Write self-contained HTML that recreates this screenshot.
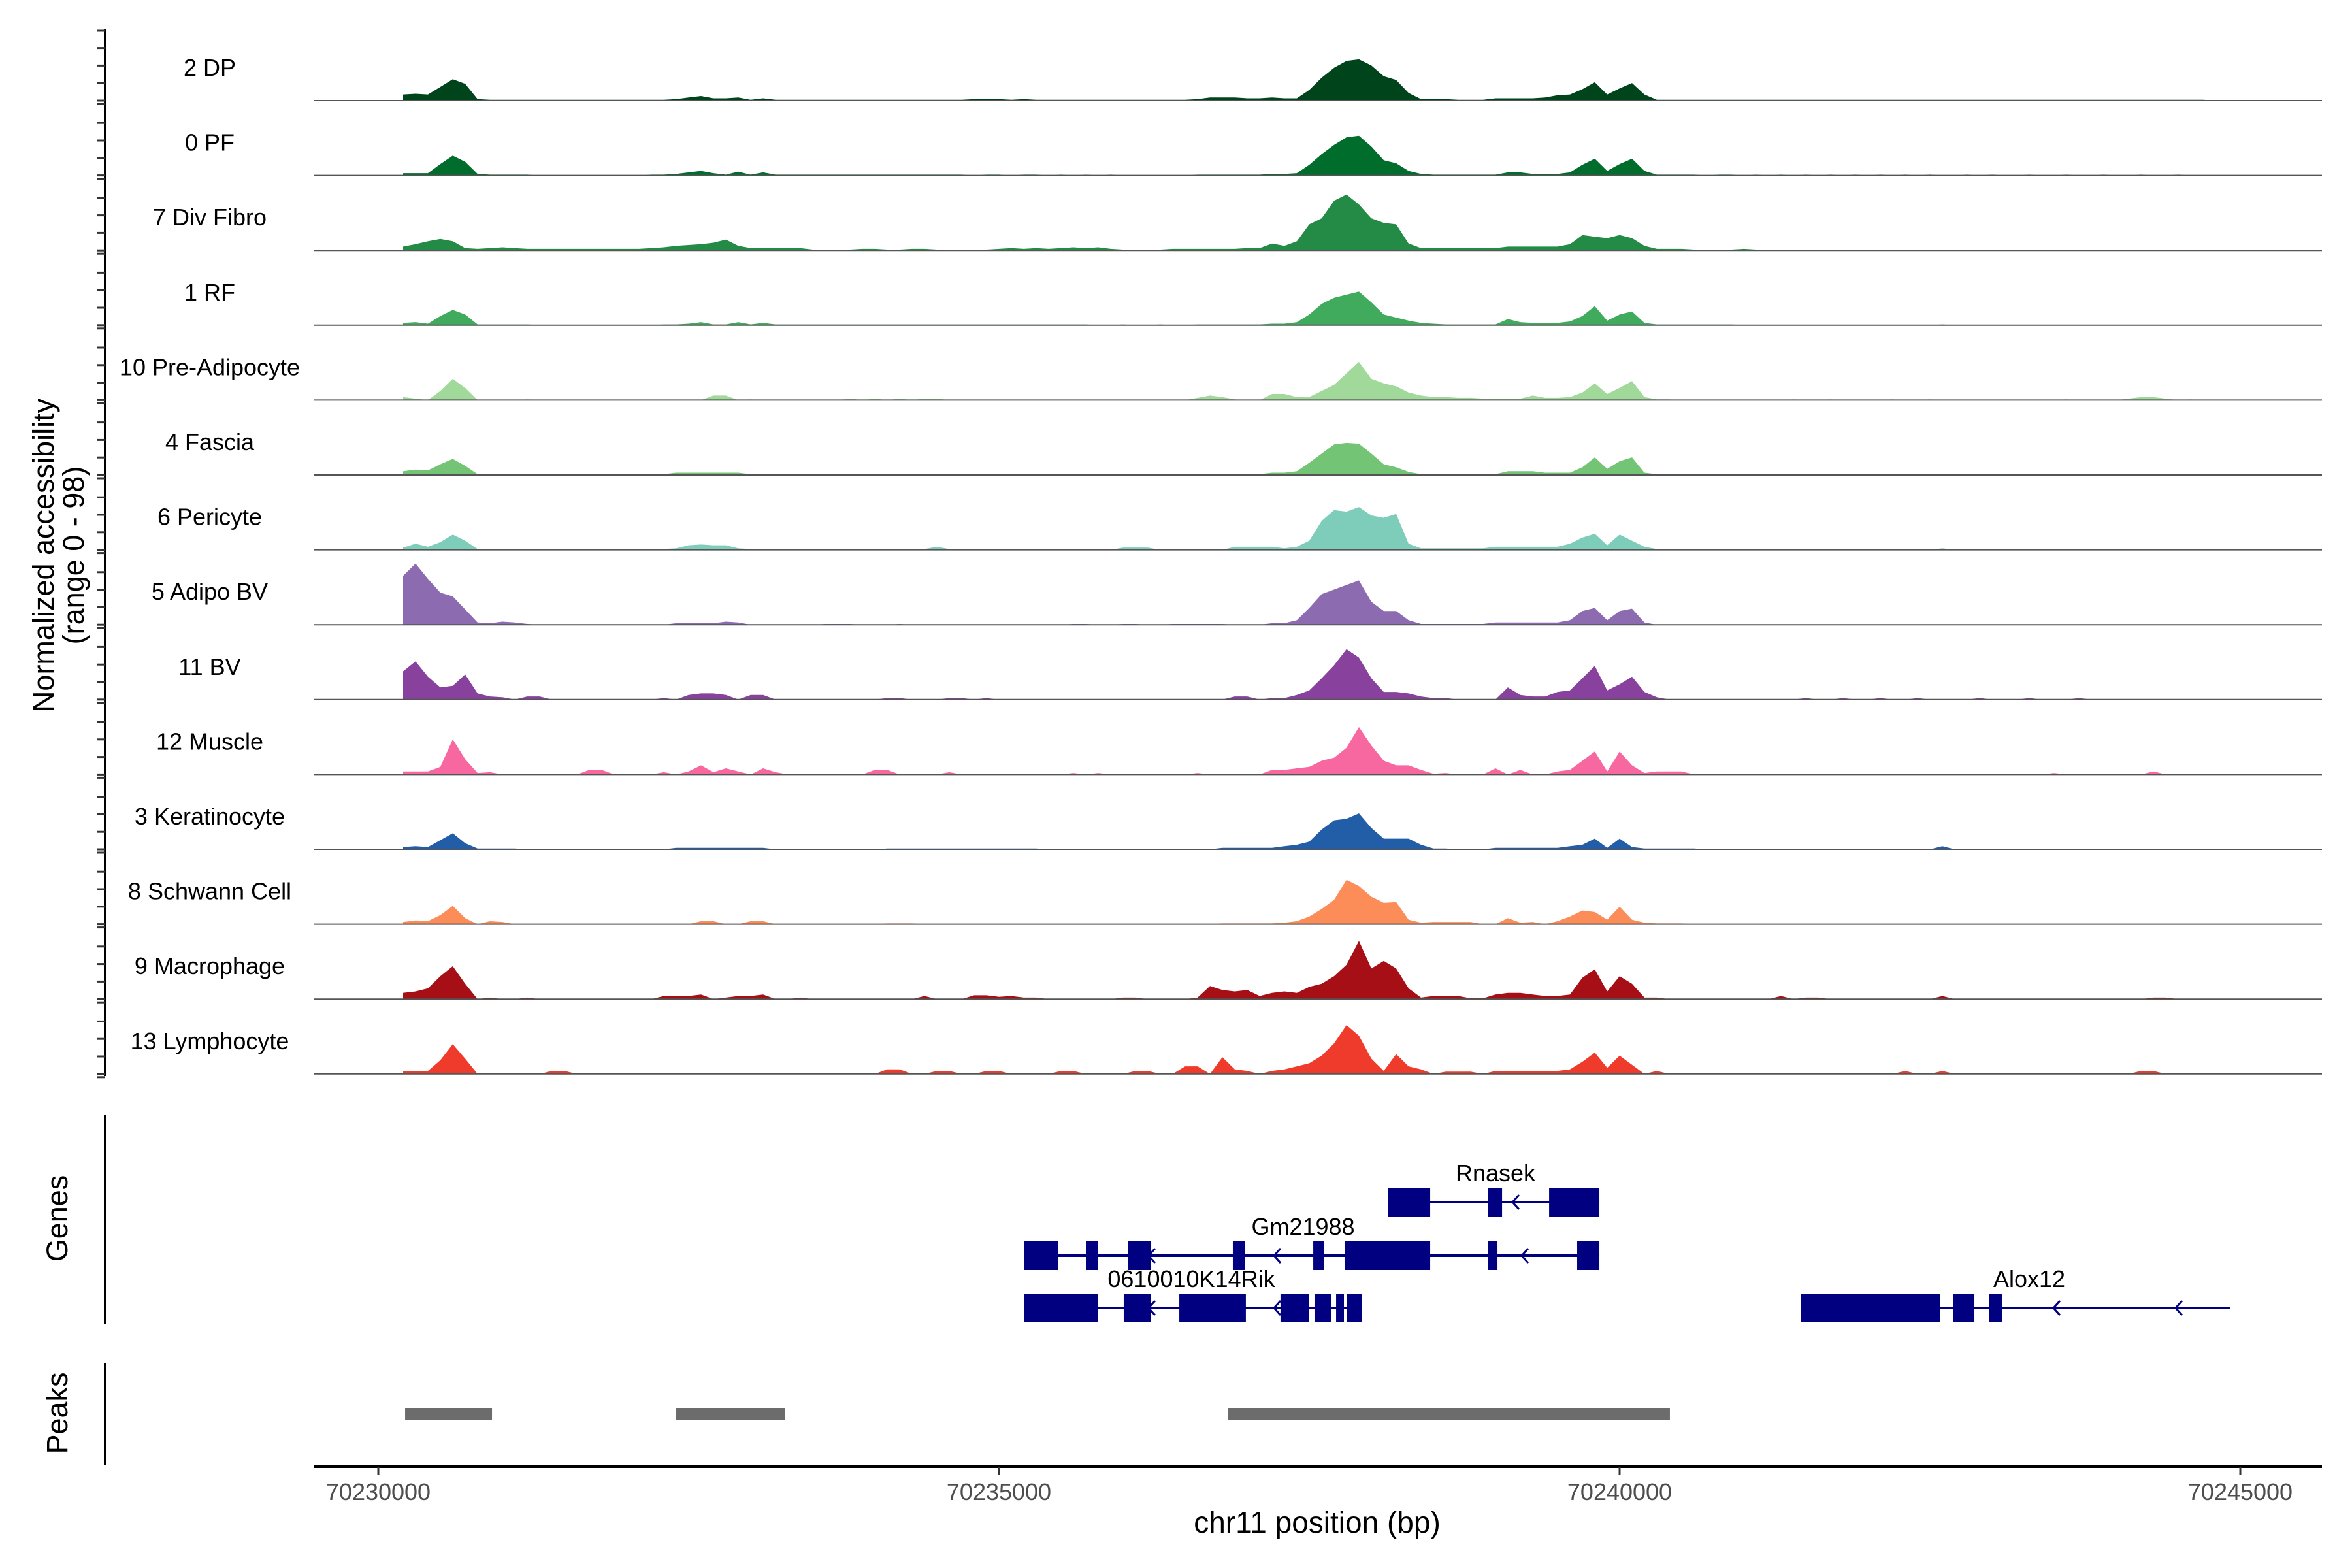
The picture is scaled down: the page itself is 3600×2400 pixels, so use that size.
<!DOCTYPE html>
<html><head><meta charset="utf-8"><style>
html,body{margin:0;padding:0;background:#fff;}
svg{display:block;font-family:"Liberation Sans",Arial,sans-serif;}
</style></head><body>
<svg id="chart" width="3600" height="2400" viewBox="0 0 3600 2400" xmlns="http://www.w3.org/2000/svg">
<rect x="0" y="0" width="3600" height="2400" fill="#fff"/>
<g id="tracks"></g>
<g id="genes"></g>
<g id="peaks"></g>
<g id="axes"></g>
<text x="0" y="0" transform="translate(82,850) rotate(-90)" text-anchor="middle" font-size="45" fill="#000">Normalized accessibility</text>
<text x="0" y="0" transform="translate(128,850) rotate(-90)" text-anchor="middle" font-size="45" fill="#000">(range 0 - 98)</text>
<text x="0" y="0" transform="translate(103,1865) rotate(-90)" text-anchor="middle" font-size="45" fill="#000">Genes</text>
<text x="0" y="0" transform="translate(103,2163) rotate(-90)" text-anchor="middle" font-size="45" fill="#000">Peaks</text>
<text x="2016" y="2346" text-anchor="middle" font-size="46" fill="#000">chr11 position (bp)</text>
</svg>
<script>
const NS="http://www.w3.org/2000/svg";
const binStart=70230200, binSize=100, yMax=98;
const trackNames=["2 DP","0 PF","7 Div Fibro","1 RF","10 Pre-Adipocyte","4 Fascia","6 Pericyte","5 Adipo BV","11 BV","12 Muscle","3 Keratinocyte","8 Schwann Cell","9 Macrophage","13 Lymphocyte"];
const trackColors=["#00441b","#006d2c","#238b45","#41ab5d","#a1d99b","#74c476","#7ecdbb","#8c6bb1","#88419d","#f768a1","#225ea8","#fc8d59","#a50f15","#ef3b2c"];
const dp=[8,9,8,18,28,22,2,1,1,1, 1,1,1,1,1,1,1,1,1,1, 1,1,2,4,6,3,3,4,1,3, 1,1,1,1,1,1,1,1,1,1, 1,1,1,1,1,1,2,2,2,1, 2,1,1,1,1,1,1,1,1,1, 1,1,1,1,2,4,4,4,3,3, 4,3,3,14,30,43,52,54,46,32, 27,10,2,2,2,1,1,1,3,3, 3,3,4,7,8,15,24,8,16,23, 8,1,1,1,1,1,1,1,1,1, 1,1,1,1,1,1,1,1,1,1, 1,1,1,1,1,1,1,1,1,1, 1,1,1,1,1,1,1,1,1,1, 1,1,1,1,1,1,0];
const pf=[3,3,3,15,26,18,2,1,1,1, 1,0,0,0,0,0,0,0,0,0, 1,1,2,4,6,3,1,5,1,4, 1,1,1,1,1,1,1,1,1,1, 1,1,1,1,1,1,0,1,1,0, 1,1,0,1,0,1,0,1,0,0, 0,0,0,0,1,1,1,1,1,1, 2,2,3,14,28,40,50,52,38,20, 16,6,2,1,1,1,1,1,1,4, 4,2,2,2,4,14,22,6,15,22, 6,1,1,1,1,0,1,1,0,1, 0,1,0,1,0,1,0,1,0,1, 0,1,0,1,0,0,1,0,1,0, 0,1,0,0,1,0,0,1,0,0, 1,0,0,1,0,0,0];
const divFibro=[5,8,12,15,12,3,2,3,4,3, 2,2,2,2,2,2,2,2,2,2, 3,4,6,7,8,10,14,6,3,3, 3,3,3,1,1,1,1,2,2,1, 1,2,2,1,1,1,1,1,2,3, 2,3,2,3,4,3,4,2,1,1, 1,1,2,2,2,2,2,2,3,3, 9,6,12,34,42,65,73,60,42,36, 34,9,3,3,3,3,3,3,3,5, 5,5,5,5,8,20,18,16,20,16, 6,2,2,2,1,1,1,1,2,1, 1,1,1,1,1,1,1,1,1,1, 1,1,1,1,1,1,1,1,1,1, 1,1,1,1,1,1,1,1,1,1, 1,1,1,1,0,0,0];
const rf=[3,4,2,12,20,14,1,1,1,1, 1,0,0,0,0,0,0,0,0,0, 0,1,1,2,4,1,1,4,1,3, 1,1,1,1,1,1,1,1,1,1, 1,1,1,1,1,1,1,1,1,1, 1,1,1,1,1,1,0,0,1,0, 0,1,0,0,1,1,1,1,1,1, 2,2,4,14,28,36,40,44,30,14, 10,6,3,2,1,1,1,1,1,8, 4,3,3,3,5,12,25,6,14,18, 3,1,1,1,1,1,1,1,0,0, 0,0,0,0,0,0,0,0,0,0, 0,0,0,0,1,0,0,0,0,0, 0,0,0,0,0,0,0,0,0,0, 0,0,0,0,0,0,0];
const preAdipo=[4,2,0,12,28,16,0,0,0,0, 1,0,0,0,0,0,0,0,0,0, 0,0,0,0,0,6,6,0,1,0, 0,0,0,0,0,0,2,0,2,0, 2,0,2,2,0,0,0,0,0,0, 0,0,0,0,0,0,0,0,0,0, 0,0,0,0,3,6,4,1,0,0, 8,8,4,4,12,20,35,50,28,22, 18,10,6,4,4,3,3,2,2,2, 2,6,3,3,4,10,22,8,16,25, 4,1,1,0,0,0,0,0,0,0, 0,0,1,0,0,1,0,0,0,0, 1,0,0,1,0,0,0,0,0,0, 0,0,0,0,1,0,0,0,0,2, 4,4,2,0,1,0,0];
const fascia=[5,7,6,14,21,12,1,1,1,1, 1,0,0,0,0,0,0,0,0,0, 0,1,3,3,3,3,3,3,1,1, 1,1,1,1,1,1,1,1,1,1, 1,1,1,1,1,1,0,0,0,0, 0,0,0,0,1,0,0,0,1,0, 0,0,0,0,1,1,1,1,1,1, 3,3,5,16,28,40,42,41,28,14, 10,4,1,1,1,1,1,1,1,5, 5,5,3,3,3,10,23,8,18,23, 3,1,1,0,0,1,0,0,0,0, 0,0,0,0,0,0,0,0,0,0, 0,0,0,0,0,0,0,0,0,0, 0,0,0,0,0,0,0,0,0,0, 0,0,0,0,0,0,0];
const pericyte=[3,8,4,10,20,12,1,0,0,0, 0,0,0,0,0,0,0,0,0,0, 0,1,2,6,7,6,6,2,1,1, 1,0,0,0,0,0,0,0,0,1, 1,1,1,4,1,0,0,0,0,0, 0,0,0,0,0,0,0,0,3,3, 3,0,0,0,0,0,0,4,4,4, 4,2,4,12,38,52,50,56,45,42, 47,8,2,2,2,2,2,2,4,4, 4,4,4,4,8,16,21,6,20,12, 4,1,1,1,0,0,0,0,0,0, 0,0,0,0,0,0,0,0,0,0, 0,0,0,0,2,0,0,0,0,0, 0,0,0,0,0,0,0,0,0,0, 1,0,0,0,0,0,0];
const adipoBV=[64,80,60,42,37,20,3,2,4,3, 1,0,0,0,0,0,0,0,0,0, 0,0,2,2,2,2,4,3,0,0, 0,0,0,0,1,1,1,0,0,0, 1,0,0,0,0,0,0,0,0,0, 0,0,0,0,1,1,0,0,1,1, 0,0,1,1,1,1,1,0,0,0, 2,2,6,22,40,46,52,58,30,18, 18,6,1,1,1,1,1,1,3,3, 3,3,3,3,6,18,22,6,18,21, 3,0,0,0,0,0,0,0,0,0, 0,0,0,0,0,0,0,0,0,0, 0,0,0,0,0,0,0,0,0,0, 0,0,0,0,0,0,0,0,0,0, 0,0,0,0,0,0,0];
const bv=[37,50,30,16,18,33,8,4,3,0, 4,4,0,0,0,0,0,0,0,0, 0,2,0,6,8,8,6,0,6,6, 0,0,0,0,0,0,0,0,0,2, 2,0,0,0,2,2,0,2,0,0, 0,0,0,0,0,0,0,0,0,0, 0,0,0,0,0,0,0,4,4,0, 2,2,6,12,28,45,66,55,28,10, 10,8,4,2,2,0,0,0,0,16, 6,4,4,10,12,28,44,12,20,30, 10,3,0,0,0,0,0,0,0,0, 0,0,0,2,0,0,2,0,0,2, 0,0,2,0,0,0,0,2,0,0, 0,2,0,0,0,2,0,0,0,0, 0,0,0,0,0,0,0];
const muscle=[4,4,4,10,46,20,2,3,0,0, 0,0,0,0,0,6,6,0,0,0, 0,3,0,4,12,3,8,4,0,8, 3,0,0,0,0,0,0,0,6,6, 0,0,0,0,3,0,0,0,0,0, 0,0,0,0,2,0,2,0,0,0, 0,0,0,0,2,0,0,0,0,0, 6,6,8,10,18,22,35,62,38,18, 12,12,6,1,2,0,0,0,8,0, 6,0,0,4,6,18,30,4,30,12, 2,4,4,4,0,0,0,0,0,0, 0,0,0,0,0,0,0,0,0,0, 0,0,0,0,0,0,0,0,0,0, 0,0,0,2,0,0,0,0,0,0, 0,4,0,0,0,0,0];
const kerat=[3,4,3,12,21,8,1,1,1,1, 0,0,0,0,0,0,0,0,0,0, 0,0,2,2,2,2,2,2,2,2, 0,0,0,0,0,0,0,0,0,1, 1,1,1,1,1,1,1,1,1,1, 1,1,0,0,0,0,0,0,0,0, 0,0,0,0,0,0,2,2,2,2, 2,4,6,10,26,38,40,47,28,14, 14,14,6,1,1,0,0,0,2,2, 2,2,2,2,4,6,14,2,14,3, 1,1,1,1,1,0,0,0,0,0, 0,0,0,0,0,0,0,0,0,0, 0,0,0,0,4,0,0,0,0,0, 0,0,0,0,0,0,0,0,0,0, 0,0,0,0,0,0,0];
const schwann=[3,5,4,12,24,8,0,4,3,0, 0,0,0,0,0,0,0,0,0,0, 0,0,0,0,4,4,0,0,4,4, 0,0,0,0,0,0,0,0,0,1, 1,1,0,0,0,0,0,0,0,0, 0,0,0,0,0,0,0,0,0,0, 0,0,0,0,0,0,1,1,1,1, 1,2,4,10,20,32,58,50,36,28, 29,6,2,3,3,3,3,0,0,8, 2,3,0,4,10,18,16,6,23,6, 2,1,1,1,0,0,0,0,0,0, 0,0,0,0,0,0,0,0,0,0, 0,0,0,0,0,0,0,0,0,0, 0,0,0,0,0,0,0,0,0,0, 0,0,0,0,0,0,0];
const macrophage=[8,10,14,30,43,20,0,2,0,0, 2,0,0,0,0,0,0,0,0,0, 0,4,4,4,6,0,2,4,4,6, 0,0,2,0,0,0,0,0,0,0, 0,0,4,0,0,0,5,5,3,4, 2,2,0,0,0,0,0,0,2,2, 0,0,0,0,2,17,12,10,12,4, 8,10,8,16,20,30,45,76,40,50, 40,14,2,4,4,4,1,1,6,8, 8,6,4,4,6,28,39,10,30,20, 2,2,0,0,0,0,0,0,0,0, 0,4,0,2,2,0,0,0,0,0, 0,0,0,0,4,0,0,0,0,0, 0,0,0,0,0,0,0,0,0,0, 0,2,2,0,0,0,0];
const lymphocyte=[4,4,4,18,39,20,0,0,0,0, 0,0,4,4,0,0,0,0,0,0, 0,0,0,0,0,0,0,0,0,0, 0,0,0,0,0,0,0,0,0,6, 6,0,0,4,4,0,0,4,4,0, 0,0,0,4,4,0,0,0,0,4, 4,0,0,10,10,0,22,6,4,0, 4,6,10,14,24,40,64,50,20,4, 26,10,6,0,3,3,3,0,4,4, 4,4,4,4,6,16,28,8,24,12, 0,4,0,0,0,0,0,0,0,0, 0,0,0,0,0,0,0,0,0,0, 0,4,0,0,4,0,0,0,0,0, 0,0,0,0,0,0,0,0,0,0, 4,4,0,0,0,0,0];
const trackValues=[dp,pf,divFibro,rf,preAdipo,fascia,pericyte,adipoBV,bv,muscle,kerat,schwann,macrophage,lymphocyte];

const xTicks=[70230000,70235000,70240000,70245000];
const geneNames=["Rnasek","Gm21988","0610010K14Rik","Alox12"];
const geneRows=[0,1,2,2];
const geneStart=[70238132,70235205,70235205,70241463];
const geneEnd=[70239837,70239837,70237926,70244916];
const geneExons=[
 [[70238132,70238474],[70238942,70239053],[70239432,70239837]],
 [[70235205,70235474],[70235700,70235800],[70236037,70236226],[70236884,70236979],[70237532,70237621],[70237789,70238474],[70238942,70239016],[70239658,70239837]],
 [[70235205,70235800],[70236005,70236226],[70236453,70236989],[70237268,70237495],[70237542,70237679],[70237716,70237779],[70237805,70237926]],
 [[70241463,70242579],[70242689,70242858],[70242974,70243084]]];
const geneArrows=[[70239158],[70236226,70237237,70239232],[70236226,70237237],[70243516,70244500]];
const geneLabelPos=[70239000,70237450,70236550,70243300];
const peakStart=[70230216,70232400,70236847];
const peakEnd=[70230916,70233274,70240405];

const X0=579, PXBP=0.19;
function xs(bp){return X0+(bp-70230000)*PXBP;}
const trackTop=154, trackStep=114.6, plotL=480, plotR=3554;
function ys(k,v){return trackTop+k*trackStep - Math.min(v,yMax)/yMax*trackStep;}

const gT=document.getElementById('tracks');
trackValues.forEach((vals,k)=>{
  const base=trackTop+k*trackStep;
  let d="M"+xs(binStart).toFixed(1)+","+base;
  vals.forEach((v,i)=>{d+=" L"+xs(binStart+i*binSize).toFixed(1)+","+ys(k,v).toFixed(1);});
  d+=" L"+xs(binStart+(vals.length-1)*binSize).toFixed(1)+","+base+" Z";
  const p=document.createElementNS(NS,'path');
  p.setAttribute('d',d);p.setAttribute('fill',trackColors[k]);
  
  
  gT.appendChild(p);
  const ln=document.createElementNS(NS,'line');
  ln.setAttribute('x1',plotL);ln.setAttribute('x2',plotR);ln.setAttribute('y1',base);ln.setAttribute('y2',base);
  ln.setAttribute('stroke','#555');ln.setAttribute('stroke-width','2');
  
  
  gT.appendChild(ln);
  const t=document.createElementNS(NS,'text');
  t.setAttribute('x',321);t.setAttribute('y',base-38);t.setAttribute('text-anchor','middle');
  t.setAttribute('font-size','36');t.textContent=trackNames[k];
  
  
  gT.appendChild(t);
});

const rowY=[1840,1922,2002];
const gG=document.getElementById('genes');
geneNames.forEach((name,g)=>{
  const y=rowY[geneRows[g]];
  const l=document.createElementNS(NS,'line');
  l.setAttribute('x1',xs(geneStart[g]));l.setAttribute('x2',xs(geneEnd[g]));l.setAttribute('y1',y);l.setAttribute('y2',y);
  l.setAttribute('stroke','#000080');l.setAttribute('stroke-width','4');
  
  
  gG.appendChild(l);
  geneExons[g].forEach(e=>{
    const r=document.createElementNS(NS,'rect');
    r.setAttribute('x',xs(e[0]));r.setAttribute('width',Math.max(4,xs(e[1])-xs(e[0])));
    r.setAttribute('y',y-22);r.setAttribute('height',44);r.setAttribute('fill','#000080');
    
    
    gG.appendChild(r);
  });
  geneArrows[g].forEach(a=>{
    const p=document.createElementNS(NS,'path');
    const ax=xs(a);
    p.setAttribute('d','M'+(ax+6)+','+(y-11)+' L'+(ax-4)+','+y+' L'+(ax+6)+','+(y+11));
    p.setAttribute('fill','none');p.setAttribute('stroke','#000080');p.setAttribute('stroke-width','3');
    
    
    gG.appendChild(p);
  });
  const t=document.createElementNS(NS,'text');
  t.setAttribute('x',xs(geneLabelPos[g]));t.setAttribute('y',y-32);t.setAttribute('text-anchor','middle');
  t.setAttribute('font-size','36');t.textContent=name;
  
  
  gG.appendChild(t);
});

const gP=document.getElementById('peaks');
peakStart.forEach((s,i)=>{
  const r=document.createElementNS(NS,'rect');
  r.setAttribute('x',xs(s));r.setAttribute('width',xs(peakEnd[i])-xs(s));
  r.setAttribute('y',2155);r.setAttribute('height',18);r.setAttribute('fill','#6c6c6c');
  
  
  gP.appendChild(r);
});

const gA=document.getElementById('axes');
function mk(tag,attrs,name){const e=document.createElementNS(NS,tag);for(const k in attrs)e.setAttribute(k,attrs[k]);gA.appendChild(e);return e;}
mk('line',{x1:161,x2:161,y1:44,y2:1647,stroke:'#000','stroke-width':4},'y-axis-line');
for(let k=0;k<trackValues.length;k++){
  const base=trackTop+k*trackStep;
  [0,1,2,3].forEach(j=>{const ty=base-j*26.8;mk('line',{x1:149,x2:161,y1:ty,y2:ty,stroke:'#333','stroke-width':3},'y-tick');});
  mk('line',{x1:149,x2:161,y1:base+5,y2:base+5,stroke:'#333','stroke-width':3},'y-tick');
}
mk('line',{x1:149,x2:161,y1:47,y2:47,stroke:'#333','stroke-width':3},'y-tick');
mk('line',{x1:161,x2:161,y1:1707,y2:2026,stroke:'#000','stroke-width':4},'genes-axis-line');
mk('line',{x1:161,x2:161,y1:2086,y2:2242,stroke:'#000','stroke-width':4},'peaks-axis-line');
mk('line',{x1:480,x2:3554,y1:2245,y2:2245,stroke:'#000','stroke-width':4},'x-axis-line');
xTicks.forEach(v=>{
  mk('line',{x1:xs(v),x2:xs(v),y1:2245,y2:2258,stroke:'#333','stroke-width':3},'x-tick');
  const t=mk('text',{x:xs(v),y:2296,'text-anchor':'middle','font-size':36,fill:'#4d4d4d'},'x-tick-label');
  t.textContent=String(v);
});
</script>
</body></html>
